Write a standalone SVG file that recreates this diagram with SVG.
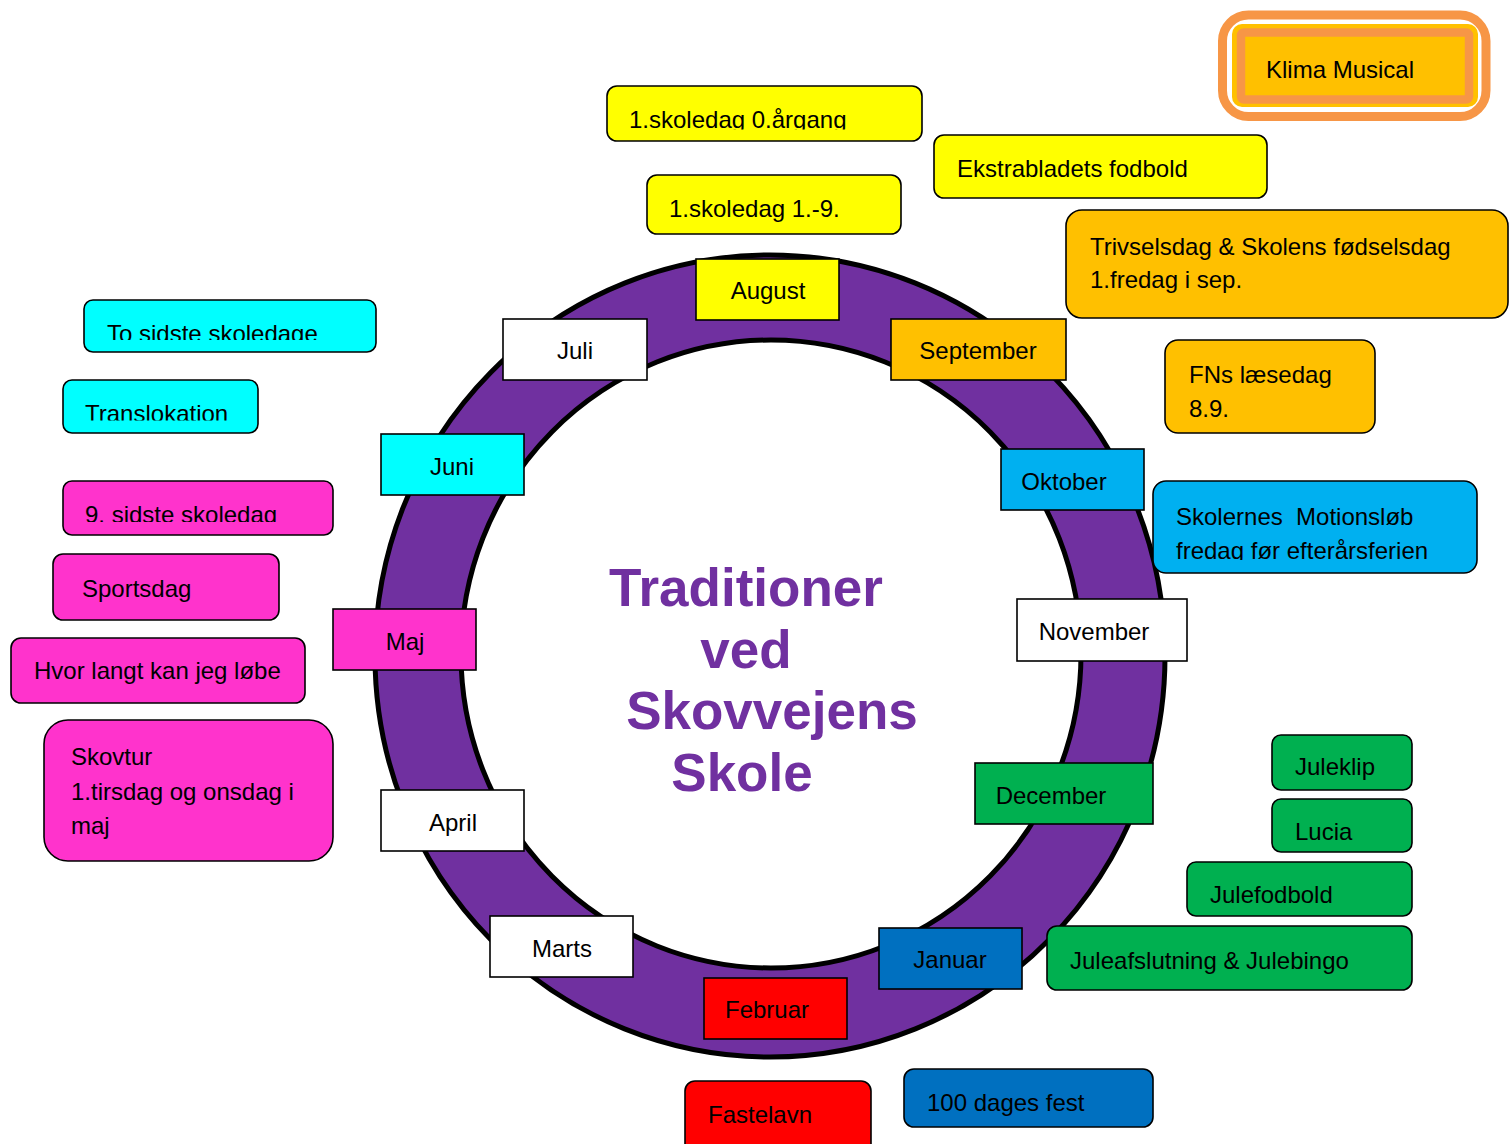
<svg xmlns="http://www.w3.org/2000/svg" width="1509" height="1144" viewBox="0 0 1509 1144">
<style>
text{font-family:"Liberation Sans",Arial,sans-serif;font-size:24px;fill:#000}
.m text{text-anchor:middle}
.mb{stroke:#000;stroke-width:1.6}
.ev{stroke:#000;stroke-width:1.6}
.title{font-family:"Liberation Sans",Arial,sans-serif;font-weight:bold;font-size:53px;fill:#7030A0;text-anchor:middle}
</style>
<defs>
<clipPath id="c1"><rect x="600" y="80" width="330" height="49.5"/></clipPath>
<clipPath id="c2"><rect x="80" y="295" width="300" height="45"/></clipPath>
<clipPath id="c3"><rect x="60" y="375" width="200" height="45.5"/></clipPath>
<clipPath id="c4"><rect x="60" y="475" width="280" height="47"/></clipPath>
<clipPath id="c5"><rect x="1150" y="475" width="330" height="85"/></clipPath>
</defs>
<rect width="1509" height="1144" fill="#fff"/>

<g id="ring">
<path d="M375 656 A395 401 0 1 0 1165 656 A395 401 0 1 0 375 656 Z M461 654 A310 314 0 1 1 1081 654 A310 314 0 1 1 461 654 Z" fill="#7030A0" fill-rule="evenodd" stroke="#000" stroke-width="5"/>
</g>

<g id="title">
<text class="title" x="746" y="606">Traditioner</text>
<text class="title" x="746" y="668">ved</text>
<text class="title" x="772" y="729">Skovvejens</text>
<text class="title" x="742" y="791">Skole</text>
</g>

<g id="months" class="m">
<g id="m-august"><rect class="mb" x="696" y="259" width="143" height="61" fill="#FFFF00"/><text x="768" y="299">August</text></g>
<g id="m-september"><rect class="mb" x="891" y="319" width="175" height="61" fill="#FFC000"/><text x="978" y="359">September</text></g>
<g id="m-juli"><rect class="mb" x="503" y="319" width="144" height="61" fill="#fff"/><text x="575" y="359">Juli</text></g>
<g id="m-juni"><rect class="mb" x="381" y="434" width="143" height="61" fill="#00FFFF"/><text x="452" y="475">Juni</text></g>
<g id="m-oktober"><rect class="mb" x="1001" y="449" width="143" height="61" fill="#00B0F0"/><text x="1064" y="490">Oktober</text></g>
<g id="m-november"><rect class="mb" x="1017" y="599" width="170" height="62" fill="#fff"/><text x="1094" y="640">November</text></g>
<g id="m-maj"><rect class="mb" x="333" y="609" width="143" height="61" fill="#FF33CC"/><text x="405" y="650">Maj</text></g>
<g id="m-april"><rect class="mb" x="381" y="790" width="143" height="61" fill="#fff"/><text x="453" y="831">April</text></g>
<g id="m-december"><rect class="mb" x="975" y="763" width="178" height="61" fill="#00B050"/><text x="1051" y="804">December</text></g>
<g id="m-marts"><rect class="mb" x="490" y="916" width="143" height="61" fill="#fff"/><text x="562" y="957">Marts</text></g>
<g id="m-januar"><rect class="mb" x="879" y="928" width="143" height="61" fill="#0070C0"/><text x="950" y="968">Januar</text></g>
<g id="m-februar"><rect class="mb" x="704" y="978" width="143" height="61" fill="#FF0000"/><text x="767" y="1018">Februar</text></g>
</g>

<g id="events">
<g id="e-klima">
<rect x="1222.5" y="15" width="263.5" height="101.5" rx="26" fill="#fff" stroke="#F79646" stroke-width="9"/>
<rect x="1232" y="24" width="246" height="83" rx="10" fill="#FFC000"/>
<rect x="1241" y="32.5" width="228" height="67" rx="3" fill="#FFC000" stroke="#F79646" stroke-width="8.5"/>
<text x="1266" y="78">Klima Musical</text>
</g>
<g id="e-skoledag0"><rect class="ev" x="607" y="86" width="315" height="55" rx="10" fill="#FFFF00"/><text x="629" y="128" clip-path="url(#c1)">1.skoledag 0.årgang</text></g>
<g id="e-skoledag1"><rect class="ev" x="647" y="175" width="254" height="59" rx="10" fill="#FFFF00"/><text x="669" y="217">1.skoledag 1.-9.</text></g>
<g id="e-ekstra"><rect class="ev" x="934" y="135" width="333" height="63" rx="10" fill="#FFFF00"/><text x="957" y="177">Ekstrabladets fodbold</text></g>
<g id="e-trivsel"><rect class="ev" x="1066" y="210" width="442" height="108" rx="16" fill="#FFC000"/><text x="1090" y="255">Trivselsdag &amp; Skolens fødselsdag</text><text x="1090" y="288">1.fredag i sep.</text></g>
<g id="e-fns"><rect class="ev" x="1165" y="340" width="210" height="93" rx="13" fill="#FFC000"/><text x="1189" y="383">FNs læsedag</text><text x="1189" y="417">8.9.</text></g>
<g id="e-motion"><rect class="ev" x="1153" y="481" width="324" height="92" rx="13" fill="#00B0F0"/><g clip-path="url(#c5)"><text x="1176" y="525" xml:space="preserve">Skolernes  Motionsløb</text><text x="1176" y="559">fredag før efterårsferien</text></g></g>
<g id="e-tosidste"><rect class="ev" x="84" y="300" width="292" height="52" rx="9" fill="#00FFFF"/><text x="107" y="342" clip-path="url(#c2)">To sidste skoledage</text></g>
<g id="e-transl"><rect class="ev" x="63" y="380" width="195" height="53" rx="9" fill="#00FFFF"/><text x="85" y="422" clip-path="url(#c3)">Translokation</text></g>
<g id="e-9sidste"><rect class="ev" x="63" y="481" width="270" height="54" rx="9" fill="#FF33CC"/><text x="85" y="523" clip-path="url(#c4)">9. sidste skoledag</text></g>
<g id="e-sport"><rect class="ev" x="53" y="554" width="226" height="66" rx="10" fill="#FF33CC"/><text x="82" y="597">Sportsdag</text></g>
<g id="e-hvor"><rect class="ev" x="11" y="638" width="294" height="65" rx="10" fill="#FF33CC"/><text x="34" y="679">Hvor langt kan jeg løbe</text></g>
<g id="e-skovtur"><rect class="ev" x="44" y="720" width="289" height="141" rx="24" fill="#FF33CC"/><text x="71" y="765">Skovtur</text><text x="71" y="800">1.tirsdag og onsdag i</text><text x="71" y="834">maj</text></g>
<g id="e-juleklip"><rect class="ev" x="1272" y="735" width="140" height="55" rx="9" fill="#00B050"/><text x="1295" y="775">Juleklip</text></g>
<g id="e-lucia"><rect class="ev" x="1272" y="799" width="140" height="53" rx="9" fill="#00B050"/><text x="1295" y="840">Lucia</text></g>
<g id="e-julefod"><rect class="ev" x="1187" y="862" width="225" height="54" rx="9" fill="#00B050"/><text x="1210" y="903">Julefodbold</text></g>
<g id="e-juleafsl"><rect class="ev" x="1047" y="926" width="365" height="64" rx="10" fill="#00B050"/><text x="1070" y="969">Juleafslutning &amp; Julebingo</text></g>
<g id="e-faste"><rect class="ev" x="685" y="1081" width="186" height="75" rx="10" fill="#FF0000"/><text x="708" y="1123">Fastelavn</text></g>
<g id="e-100"><rect class="ev" x="904" y="1069" width="249" height="58" rx="10" fill="#0070C0"/><text x="927" y="1111">100 dages fest</text></g>
</g>
<g id="connectors"/>
</svg>
